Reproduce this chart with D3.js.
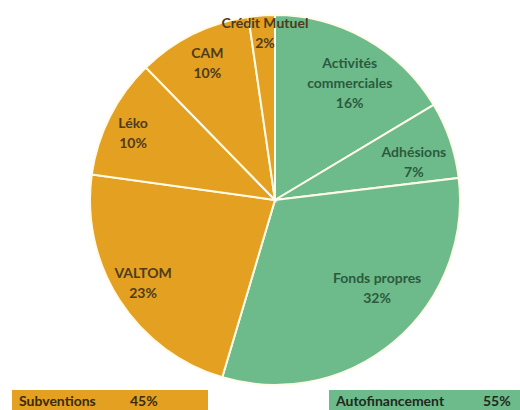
<!DOCTYPE html>
<html>
<head>
<meta charset="utf-8">
<script src="https://cdn.jsdelivr.net/npm/d3@7"></script>
<style>
  body { margin: 0; background: #fff; }
  svg { display: block; font-family: Lato, "Open Sans", sans-serif; font-weight: bold; }
</style>
</head>
<body>
<svg width="520" height="410"></svg>
<script>
// slices, clockwise from 12 o'clock
var names = ["Activités commerciales", "Adhésions", "Fonds propres", "VALTOM", "Léko", "CAM", "Crédit Mutuel"];
var shares = [16.4, 6.7, 31.5, 22.6, 10.5, 10.0, 2.3];
var shownPct = ["16%", "7%", "32%", "23%", "10%", "10%", "2%"];
var groupOf = ["auto", "auto", "auto", "sub", "sub", "sub", "sub"];

// legend
var groups = ["sub", "auto"];
var groupNames = ["Subventions", "Autofinancement"];
var groupPct = ["45%", "55%"];

// label placement (radius, angle nudge in degrees) - bestFit-ish
var labelR = [139, 144, 135, 156, 157, 153, 167];
var labelNudge = [3, 3.5, -9, 0.5, -1.5, 0, 0.7];

var fill = { sub: "#E3A021", auto: "#6DBA8B" };
var ink = { sub: "#4d3b1c", auto: "#2c5a3c" };

var cx = 275, cy = 200, radius = 185;

var svg = d3.select("svg");

var data = names.map(function(n, i) {
  return { name: n, value: shares[i], pct: shownPct[i], group: groupOf[i], i: i };
});

var pie = d3.pie().sort(null).value(function(d) { return d.value; });
var arc = d3.arc().innerRadius(0).outerRadius(radius);

var g = svg.append("g").attr("transform", "translate(" + cx + "," + cy + ")");

var arcs = pie(data);

g.selectAll("path.slice")
  .data(arcs)
  .enter()
  .append("path")
  .attr("class", "slice")
  .attr("d", arc)
  .attr("fill", function(d) { return fill[d.data.group]; })
  .attr("stroke", "#fffbe8")
  .attr("stroke-width", 2);

var lbl = g.selectAll("text.lbl")
  .data(arcs)
  .enter()
  .append("text")
  .attr("class", "lbl")
  .attr("text-anchor", "middle")
  .attr("font-size", 14)
  .attr("fill", function(d) { return ink[d.data.group]; })
  .attr("transform", function(d) {
    var a = (d.startAngle + d.endAngle) / 2 + labelNudge[d.data.i] * Math.PI / 180;
    var r = labelR[d.data.i];
    return "translate(" + (Math.sin(a) * r) + "," + (-Math.cos(a) * r) + ")";
  });

lbl.each(function(d) {
  var t = d3.select(this);
  var lines = d.data.name === "Activités commerciales" ? ["Activités", "commerciales"] : [d.data.name];
  lines.push(d.data.pct);
  var lh = 20, y0 = -(lines.length - 1) * lh / 2 + 5;
  lines.forEach(function(s, k) {
    t.append("tspan").attr("x", 0).attr("y", y0 + k * lh).text(s);
  });
});

// legend boxes
var legX = [12, 329], legW = [196, 191], legTop = 390;
var leg = svg.selectAll("g.leg")
  .data(groups)
  .enter()
  .append("g")
  .attr("class", "leg")
  .attr("transform", function(d, i) { return "translate(" + legX[i] + "," + legTop + ")"; });

leg.append("rect")
  .attr("width", function(d, i) { return legW[i]; })
  .attr("height", 22)
  .attr("fill", function(d) { return fill[d]; });

leg.append("text")
  .attr("x", 7)
  .attr("y", 16)
  .attr("font-size", 14)
  .attr("fill", function(d) { return d === "sub" ? "#3a2a0e" : "#1e2a20"; })
  .text(function(d, i) { return groupNames[i]; });

leg.append("text")
  .attr("x", function(d, i) { return i === 0 ? 118 : 154; })
  .attr("y", 16)
  .attr("font-size", 14)
  .attr("fill", function(d) { return d === "sub" ? "#3a2a0e" : "#1e2a20"; })
  .text(function(d, i) { return groupPct[i]; });
</script>
</body>
</html>
